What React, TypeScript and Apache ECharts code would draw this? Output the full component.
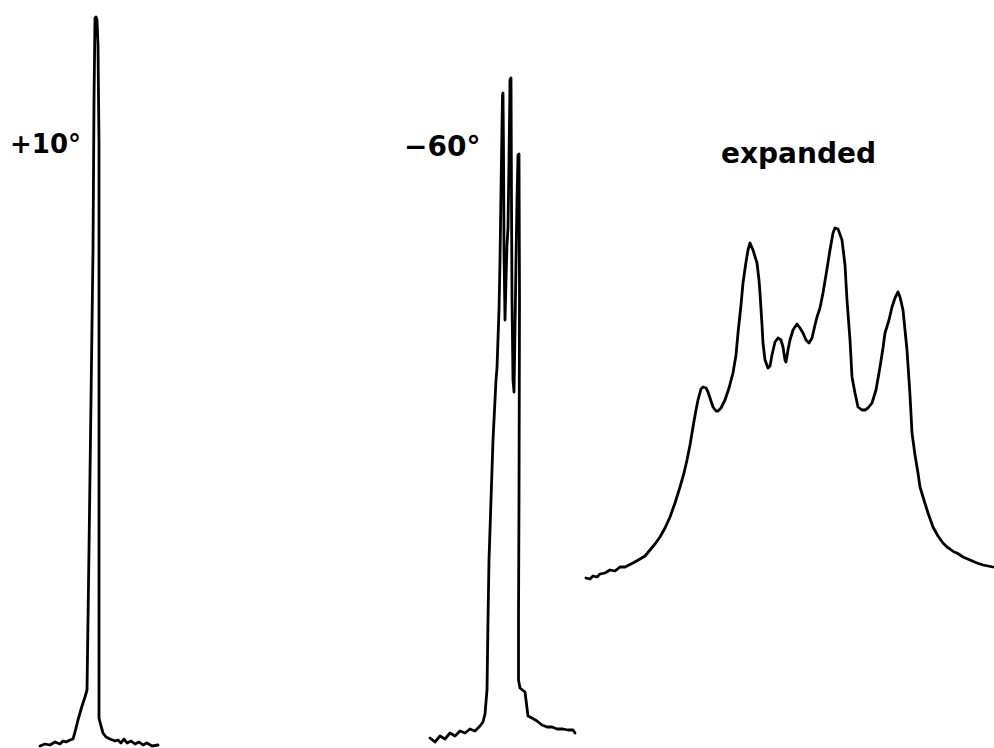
import React, { useEffect, useRef } from "react";
import * as echarts from "echarts";

// +10° spectrum: frequency offset (arb. units) and intensity (arb. units)
const plus10Freq = [-56, -51, -46, -41, -36, -33, -30, -26, -23, -21, -18, -14, -11, -9, -7, -5, -3, -2, -1, 0, 1, 2, 3, 3, 3, 3, 3, 5, 7, 10, 14, 19, 22, 25, 28, 31, 35, 39, 43, 47, 51, 56, 62];
const plus10Int = [2, 4, 3, 6, 4, 7, 6, 8, 9, 16, 28, 42, 51, 58, 198, 348, 498, 648, 730, 731, 728, 703, 603, 403, 203, 58, 30, 22, 15, 11, 9, 7, 8, 5, 9, 5, 7, 4, 6, 3, 5, 2, 3];

// -60° spectrum
const minus60Freq = [-80, -75, -70, -65, -60, -55, -50, -45, -40, -35, -30, -27, -25, -23, -22, -21, -19, -17, -15, -14, -13, -11, -10, -9, -8, -7.5, -7, -6.5, -6, -5, -4, -3, -2, -1, 0, 1, 1.5, 2, 3, 4, 5, 6, 7, 8, 9, 9.5, 9, 8.5, 8.5, 10, 15, 18, 22, 27, 32, 37, 42, 47, 53, 58, 63, 65];
const minus60Int = [10, 6, 12, 9, 15, 12, 17, 15, 19, 17, 22, 26, 34, 58, 128, 188, 248, 308, 348, 368, 380, 438, 487, 558, 621, 653, 655, 598, 498, 428, 468, 503, 520, 588, 668, 670, 548, 448, 368, 356, 418, 488, 548, 593, 594, 448, 248, 128, 68, 60, 56, 32, 30, 27, 23, 21, 21, 19, 19, 18, 18, 15];

// expanded spectrum
const expandedFreq = [-204, -200, -197, -193, -190, -185, -180, -175, -170, -165, -157, -150, -145, -140, -135, -130, -125, -120, -115, -110, -106, -103, -100, -97, -94, -92, -89, -87, -84, -82, -79, -77, -74, -72, -69, -65, -61, -57, -54, -52, -49, -47, -44, -42, -40, -37, -33, -31, -30, -28, -27, -25, -22, -20, -18, -15, -12, -9, -7, -5, -4, -2, 0, 3, 7, 10, 13, 16, 19, 22, 25, 27, 30, 33, 36, 40, 43, 45, 48, 52, 55, 57, 60, 62, 65, 68, 72, 75, 78, 82, 86, 90, 93, 95, 99, 102, 105, 108, 110, 113, 115, 117, 120, 122, 125, 128, 130, 133, 138, 143, 148, 153, 157, 160, 164, 167, 173, 180, 187, 193, 198, 203];
const expandedInt = [12, 11, 14, 13, 16, 17, 20, 19, 23, 23, 27, 31, 34, 40, 46, 53, 62, 73, 87, 103, 117, 130, 145, 163, 180, 190, 201, 203, 202, 198, 189, 183, 179, 179, 182, 190, 202, 217, 235, 257, 285, 307, 328, 340, 347, 340, 327, 310, 297, 265, 247, 230, 222, 224, 235, 248, 252, 250, 243, 230, 228, 240, 250, 260, 266, 262, 257, 250, 247, 252, 265, 273, 282, 297, 315, 340, 357, 362, 361, 350, 325, 290, 250, 213, 197, 183, 180, 180, 182, 187, 200, 223, 242, 257, 270, 283, 292, 298, 293, 280, 260, 240, 195, 157, 135, 117, 103, 93, 77, 63, 54, 47, 43, 41, 38, 37, 33, 30, 27, 25, 24, 23];

const labels = ["+10°", "−60°", "expanded"];

const zip = (xs: number[], ys: number[]) => xs.map((x, i) => [x, ys[i]]);

export default function App() {
  const ref = useRef<HTMLDivElement>(null);
  useEffect(() => {
    document.body.style.margin = "0";
    const chart = echarts.init(ref.current!, null, { renderer: "svg" });
    const lineStyle = { color: "#000", width: 2.8, join: "round" as const, cap: "round" as const };
    const hiddenX = (min: number, max: number, gridIndex: number) => ({
      type: "value" as const, min, max, gridIndex, show: false,
    });
    const hiddenY = (min: number, max: number, gridIndex: number) => ({
      type: "value" as const, min, max, gridIndex, show: false,
    });
    const font = { fontFamily: "DejaVu Sans", fontWeight: "bold" as const, fill: "#000" };
    chart.setOption({
      animation: false,
      backgroundColor: "#fff",
      grid: [
        { left: 40, top: 0, width: 120, height: 748 },
        { left: 430, top: 0, width: 145, height: 748 },
        { left: 586, top: 190, width: 408, height: 400 },
      ],
      xAxis: [hiddenX(-56, 64, 0), hiddenX(-80, 65, 1), hiddenX(-204, 204, 2)],
      yAxis: [hiddenY(0, 748, 0), hiddenY(0, 748, 1), hiddenY(0, 400, 2)],
      series: [
        { type: "line", xAxisIndex: 0, yAxisIndex: 0, data: zip(plus10Freq, plus10Int), showSymbol: false, lineStyle, clip: false },
        { type: "line", xAxisIndex: 1, yAxisIndex: 1, data: zip(minus60Freq, minus60Int), showSymbol: false, lineStyle, clip: false },
        { type: "line", xAxisIndex: 2, yAxisIndex: 2, data: zip(expandedFreq, expandedInt), showSymbol: false, lineStyle, clip: false },
      ],
      graphic: [
        { type: "text", left: 10, top: 131, style: { text: labels[0], fontSize: 26, ...font } },
        { type: "text", left: 404, top: 132, style: { text: labels[1], fontSize: 28, ...font } },
        { type: "text", left: 721, top: 139, style: { text: labels[2], fontSize: 28, ...font } },
      ],
    });
    return () => chart.dispose();
  }, []);
  return <div ref={ref} style={{ position: "absolute", left: 0, top: 0, width: 994, height: 748 }} />;
}
